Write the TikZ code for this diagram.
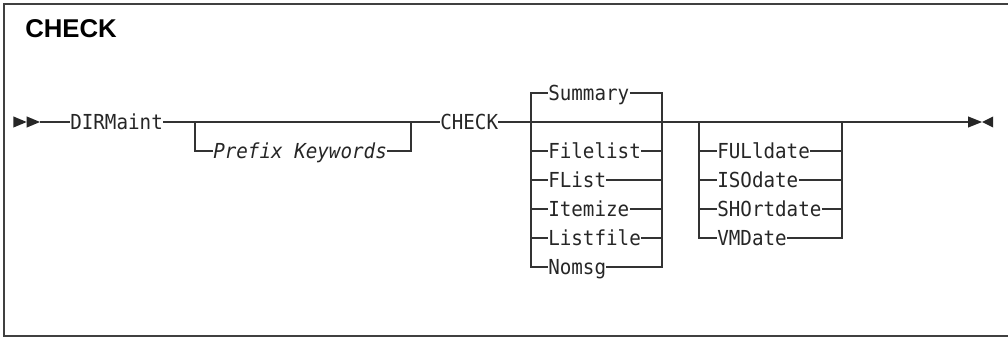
\documentclass[tikz,border=0pt]{standalone}
\usepackage{fontspec}
\newfontfamily\kwfont[FakeStretch=0.93]{DejaVu Sans Mono}
\newfontfamily\headfont{Liberation Sans}
\usetikzlibrary{positioning}

\begin{document}
\begin{tikzpicture}[
  kw/.style={font={\kwfont\fontsize{14.7pt}{17pt}\selectfont}, inner sep=0pt,
    text height=10.7pt, text depth=0pt, anchor=west, text=black!85},
  var/.style={kw, font={\kwfont\itshape\fontsize{14.7pt}{17pt}\selectfont}},
  rail/.style={draw=black!80, line width=0.8pt},
  endmark/.style={fill=black!85}
]

% Layout constants
\def\ym{5.375}   % main rail height
\def\rowp{0.725} % row pitch in a choice stack

\useasboundingbox (0,0) rectangle (25.2,8.425);
\draw[black!75, line width=1pt] (0.1,0.025) rectangle (25.6,8.325);

\node[anchor=base west, inner sep=0pt,
  font={\headfont\bfseries\fontsize{18.3pt}{20pt}\selectfont}] (title) at (0.625,7.475) {CHECK};

%% ---- start of statement -------------------------
\fill[endmark] (0.333,\ym+0.14) -- (0.667,\ym) -- (0.333,\ym-0.14) -- cycle;
\fill[endmark] (0.667,\ym+0.14) -- (1.0,\ym) -- (0.667,\ym-0.14) -- cycle;
\coordinate (start) at (1.0,\ym);

\node[kw] (dirm) at (1.75,\ym) {DIRMaint};

% optional prefix
\coordinate (pfxL) at (4.875,\ym);
\node[var] (pfx) at (5.325,\ym-\rowp) {Prefix Keywords};
\coordinate (pfxR) at (10.275,\ym);

\node[kw] (chk) at (11.0,\ym) {CHECK};

\draw[rail] (start) -- (dirm.west);
\draw[rail] (dirm.east) -- (chk.west);
\draw[rail] (pfxL) |- (pfx.west);
\draw[rail] (pfx.east) -| (pfxR);

%% ---- report type (Summary is default) -------------------------
\coordinate (sumL) at (13.275,\ym);
\coordinate (sumR) at (16.55,\ym);
\node[kw] (sum) at (13.7,\ym+\rowp) {Summary};
\draw[rail] (sumL) |- (sum.west);
\draw[rail] (sum.east) -| (sumR);
\foreach \k/\lab in {1/Filelist, 2/FList, 3/Itemize, 4/Listfile, 5/Nomsg} {
  \node[kw] (opt\k) at (13.7,\ym-\k*\rowp) {\lab};
  \draw[rail] (sumL) |- (opt\k.west);
  \draw[rail] (opt\k.east) -| (sumR);
}

%% ---- date format (optional) -------------------------
\coordinate (dateL) at (17.475,\ym);
\coordinate (dateR) at (21.05,\ym);
\foreach \k/\lab in {1/FULldate, 2/ISOdate, 3/SHOrtdate, 4/VMDate} {
  \node[kw] (date\k) at (17.925,\ym-\k*\rowp) {\lab};
  \draw[rail] (dateL) |- (date\k.west);
  \draw[rail] (date\k.east) -| (dateR);
}

%% ---- main rail and end of statement -------------------------
\coordinate (stop) at (24.2,\ym);
\draw[rail] (chk.east) -- (sumL) -- (sumR) -- (dateL) -- (dateR) -- (stop);
\fill[endmark] (24.2,\ym+0.14) -- (24.55,\ym) -- (24.2,\ym-0.14) -- cycle;
\fill[endmark] (24.55,\ym) -- (24.83,\ym+0.14) -- (24.83,\ym-0.14) -- cycle;

\end{tikzpicture}
\end{document}
